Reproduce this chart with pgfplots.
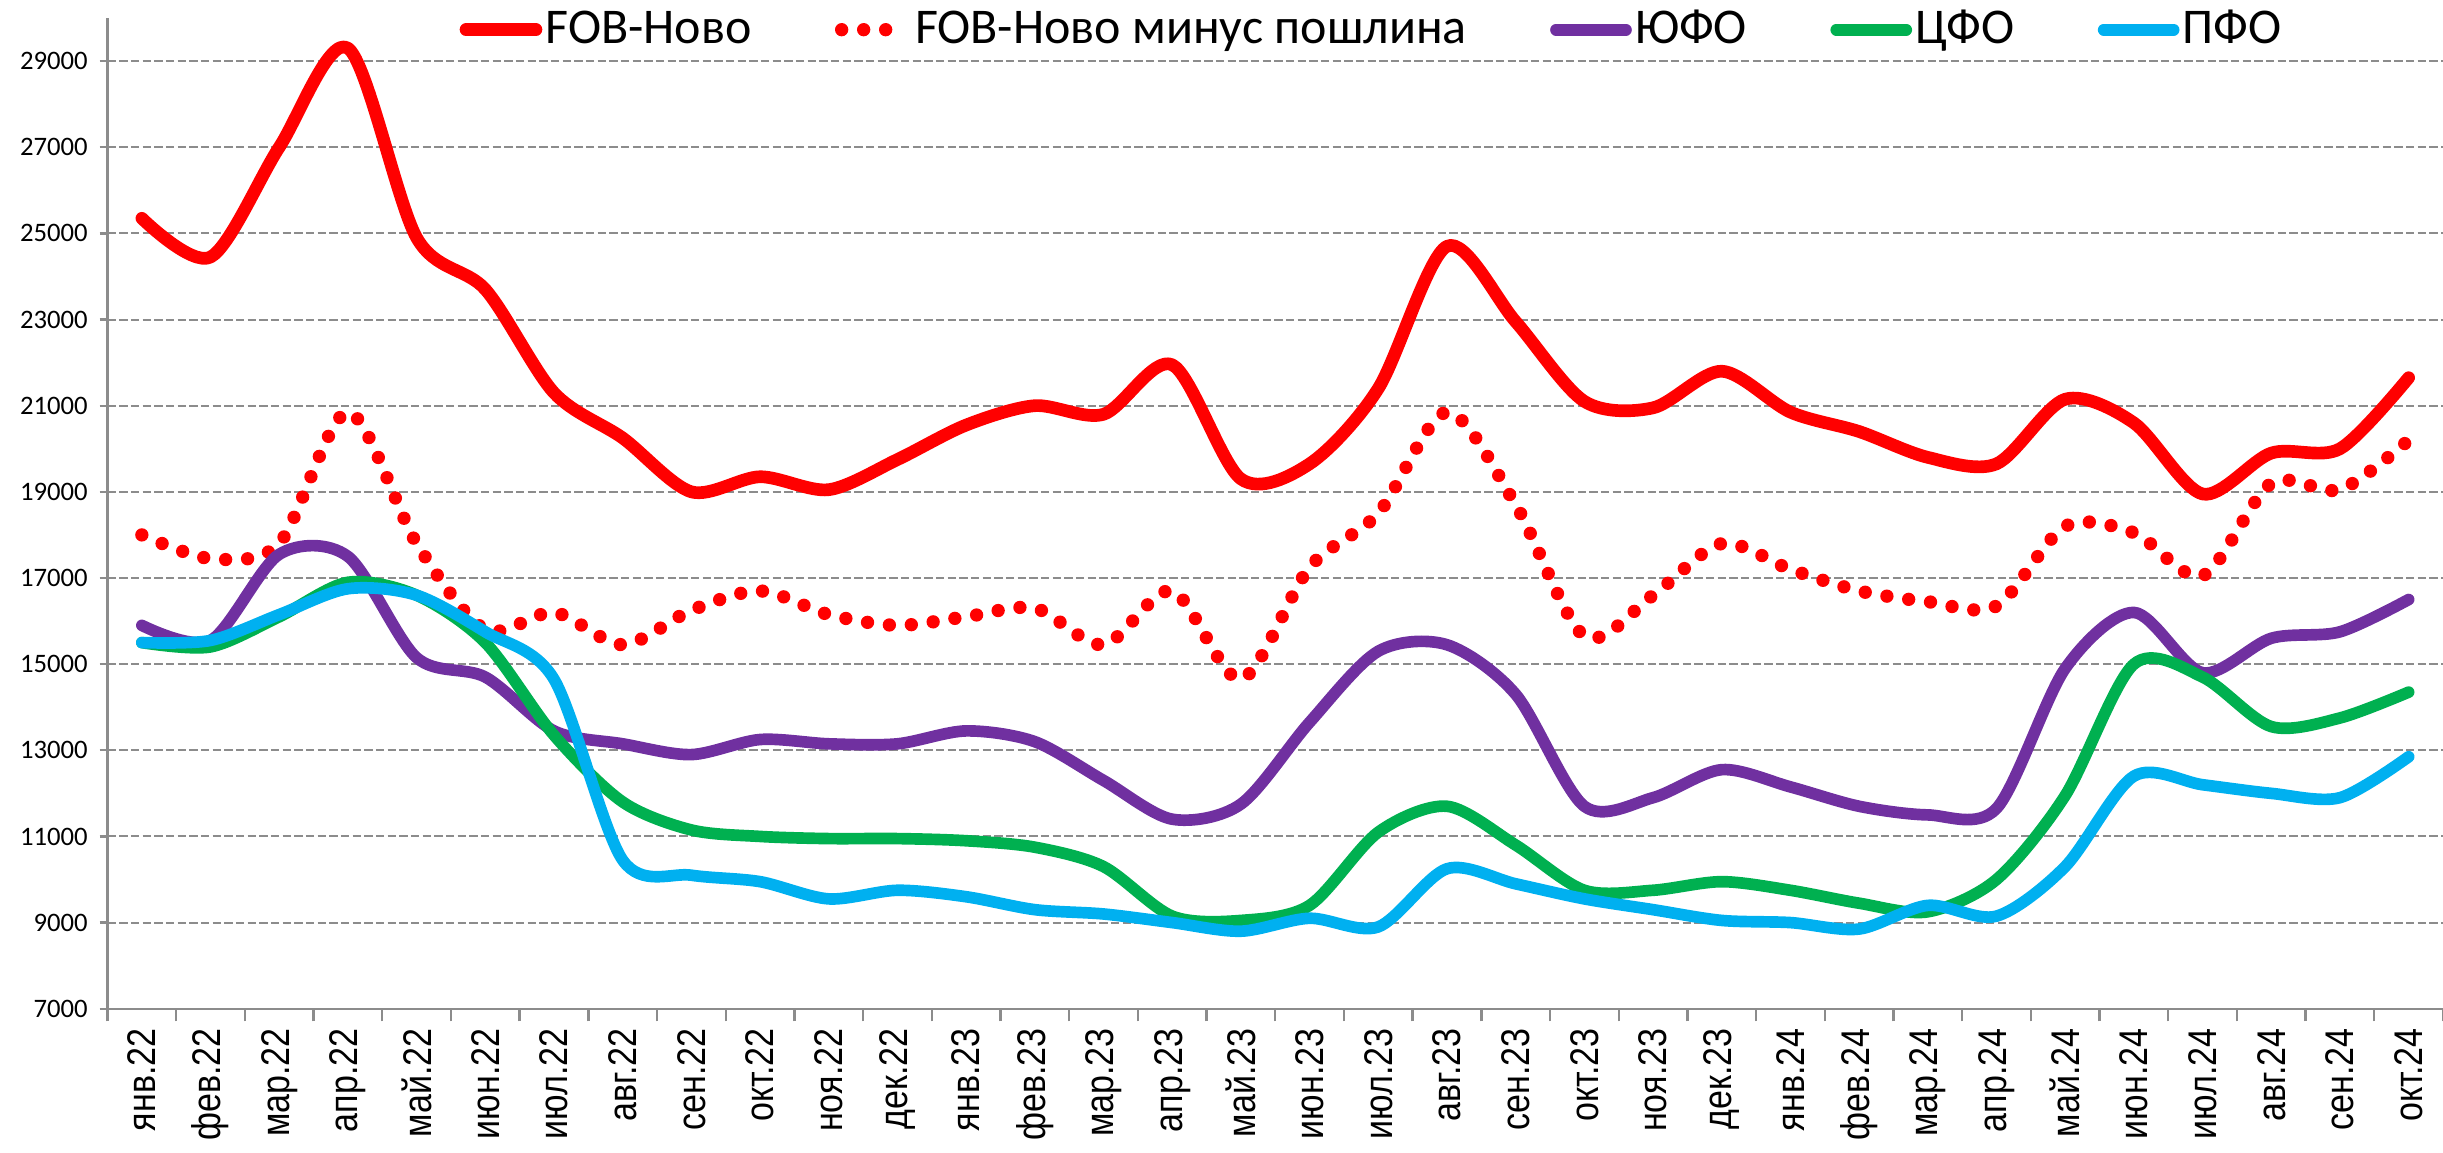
\documentclass[border=0pt]{standalone}
\usepackage{fontspec}
\setmainfont{Carlito}
\newfontfamily\xfont[FakeStretch=0.85]{Liberation Sans}
\usepackage{pgfplots}
\usepackage{pgfplotstable}
\pgfplotsset{compat=1.18}

\definecolor{fobred}{HTML}{FF0000}
\definecolor{ufo}{HTML}{7030A0}
\definecolor{cfo}{HTML}{00B050}
\definecolor{pfo}{HTML}{00B0F0}
\definecolor{axgray}{HTML}{8C8C8C}

\pgfplotsset{
    dotlegend/.style={legend image code/.code={%
        \path[draw=none, fill=none] (-2pt,0pt) (21pt,0pt);
        \draw[##1] (0pt,0pt) -- (13.3pt,0pt);}},
}

% m = month index (0 = Jan 2022)
\pgfplotstableread{
m  fob    net    ufo    cfo    pfo
0  25350  18000  15900  15500  15500
1  24450  17450  15550  15400  15550
2  27000  17800  17550  16100  16150
3  29300  20850  17500  16900  16750
4  24900  17800  15150  16600  16600
5  23700  15800  14700  15500  15750
6  21300  16200  13450  13350  14650
7  20250  15450  13150  11800  10450
8  19000  16250  12900  11150  10100
9  19350  16700  13250  11000  9950
10 19050  16150  13150  10950  9550
11 19750  15900  13150  10950  9750
12 20550  16100  13450  10900  9600
13 21000  16300  13200  10750  9300
14 20800  15450  12300  10300  9200
15 21950  16700  11400  9150   9000
16 19300  14650  11750  9050   8800
17 19650  17250  13650  9400   9100
18 21400  18500  15300  11100  8900
19 24700  20850  15450  11700  10250
20 22950  18700  14300  10800  9900
21 21100  15650  11700  9750   9550
22 20950  16600  11900  9750   9300
23 21800  17800  12550  9950   9050
24 20850  17200  12150  9750   9000
25 20400  16700  11700  9450   8850
26 19800  16450  11500  9250   9400
27 19650  16350  11650  10000  9150
28 21150  18200  14900  11950  10300
29 20600  18050  16200  15000  12400
30 18950  17050  14800  14700  12200
31 19900  19200  15600  13550  12000
32 20000  19050  15750  13750  11900
33 21650  20200  16500  14350  12850
}\prices

\begin{document}
\begin{tikzpicture}
\begin{axis}[
    scale only axis,
    width=700.6pt, height=297.2pt,
    xmin=-0.5, xmax=33.5,
    ymin=7000, ymax=30000,
    axis x line=bottom, axis y line=left,
    axis line style={-, axgray, line width=0.7pt},
    tick align=outside,
    major tick length=2.4pt,
    minor tick length=3.8pt,
    xtick={0,...,33},
    xticklabels={янв.22,фев.22,мар.22,апр.22,май.22,июн.22,июл.22,авг.22,сен.22,окт.22,ноя.22,дек.22,
                 янв.23,фев.23,мар.23,апр.23,май.23,июн.23,июл.23,авг.23,сен.23,окт.23,ноя.23,дек.23,
                 янв.24,фев.24,мар.24,апр.24,май.24,июн.24,июл.24,авг.24,сен.24,окт.24},
    minor xtick={-0.5,0.5,...,33.5},
    major x tick style={draw=none},
    minor x tick style={axgray, line width=0.7pt},
    major y tick style={axgray, line width=0.7pt},
    xticklabel style={font={\xfont\fontsize{12}{12}\selectfont}, rotate=90, anchor=east},
    ytick={7000,9000,...,29000},
    yticklabels={7000,9000,11000,13000,15000,17000,19000,21000,23000,25000,27000,29000},
    yticklabel style={font=\fontsize{8}{9}\selectfont},
    ymajorgrids,
    grid style={axgray, line width=0.6pt, dash pattern=on 2.5pt off 1pt},
    legend columns=5,
    legend style={at={(0.1505,0.9882)}, anchor=west, draw=none, fill=none,
        inner sep=0pt, font=\fontsize{15}{18}\selectfont,
        nodes={inner sep=1pt},
        /tikz/every even column/.append style={column sep=24pt}},
    legend cell align=left,
    legend image code/.code={\draw[#1, line cap=round] (0pt,0pt) -- (21pt,0pt);},
    every axis plot/.append style={smooth, line join=round},
]
\addplot[fobred, line width=3.8pt, line cap=round] table[x=m, y=fob] {\prices};
\addlegendentry{FOB-Ново}
\addplot[fobred, line width=4pt, line cap=round, dash pattern=on 0pt off 6.6pt, dotlegend]
    table[x=m, y=net] {\prices};
\addlegendentry{FOB-Ново минус пошлина}
\addplot[ufo, line width=3.5pt, line cap=round] table[x=m, y=ufo] {\prices};
\addlegendentry{ЮФО}
\addplot[cfo, line width=3.5pt, line cap=round] table[x=m, y=cfo] {\prices};
\addlegendentry{ЦФО}
\addplot[pfo, line width=3.5pt, line cap=round] table[x=m, y=pfo] {\prices};
\addlegendentry{ПФО}
\end{axis}
\pgfresetboundingbox
\path[use as bounding box] ([xshift=-32.25pt,yshift=-43pt]current axis.south west)
    rectangle ([yshift=5.4pt]current axis.north east);
\end{tikzpicture}
\end{document}
